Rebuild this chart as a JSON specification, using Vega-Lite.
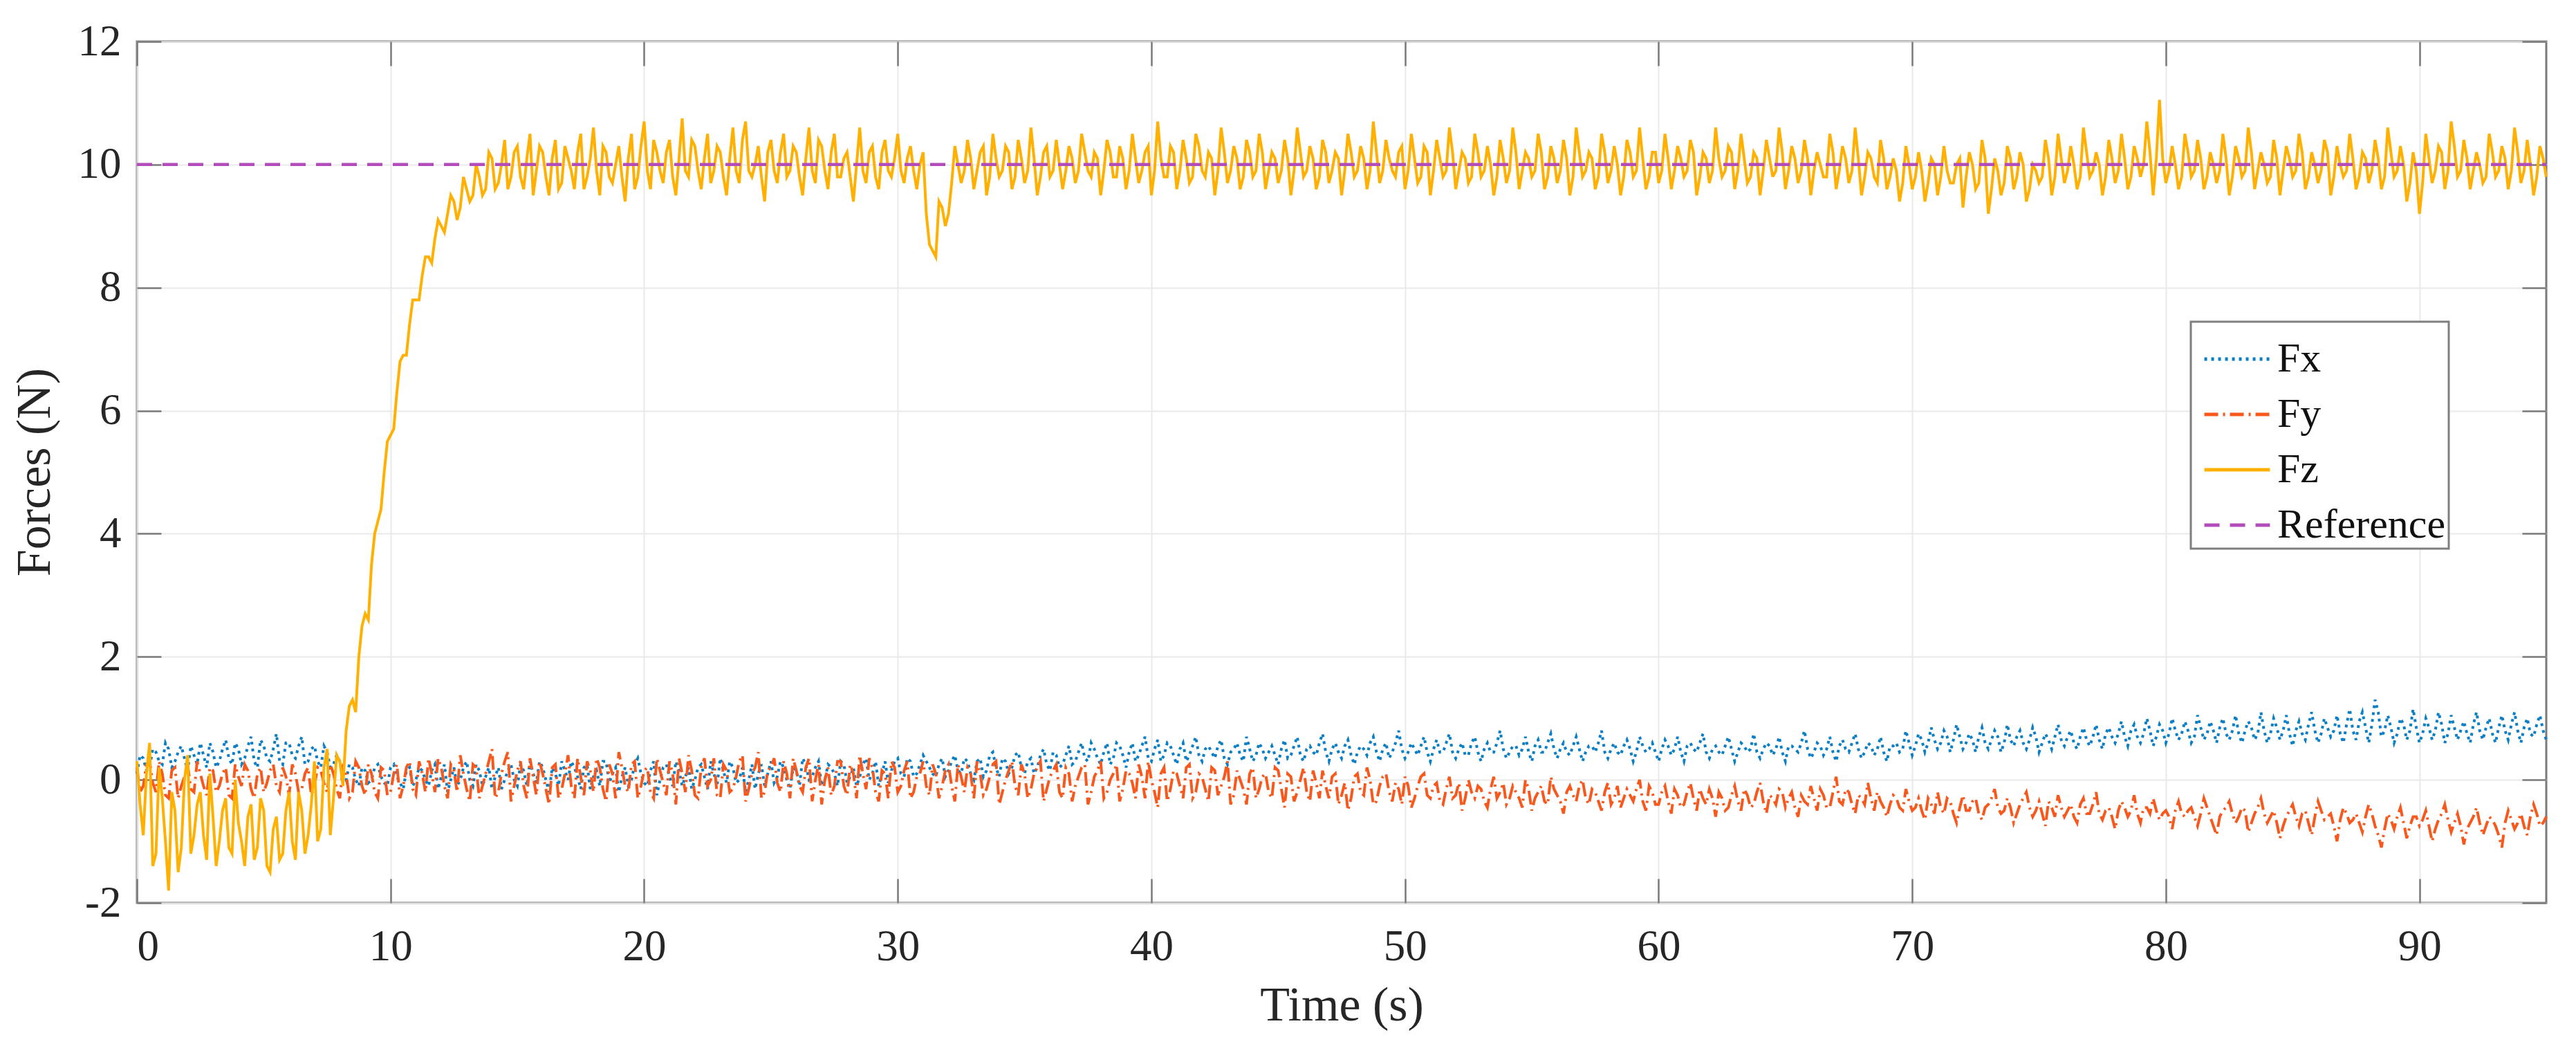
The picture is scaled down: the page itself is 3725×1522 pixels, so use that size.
{
"$schema":"https://vega.github.io/schema/vega-lite/v6.json",
"width":3484,"height":1245,
"autosize":{"type":"none"},
"padding":{"left":198,"top":60,"right":43,"bottom":217},
"background":"white",
"config":{
 "view":{"stroke":"#7a7a7a","strokeWidth":3},
 "font":"Liberation Serif",
 "legend":{"strokeWidth":3},
 "axis":{"labelFont":"Liberation Serif","titleFont":"Liberation Serif","labelFontSize":63,"titleFontSize":70,"titleFontWeight":"normal","labelColor":"#262626","titleColor":"#262626","gridColor":"#e9e9e9","gridWidth":2,"tickColor":"#7a7a7a","tickWidth":2.5,"domain":false}
},
"resolve":{"axis":{"x":"independent","y":"independent"}},
"layer":[
 {
  "data":{"values":[
{"t":0,"Fx":0.1,"Fy":0.2,"Fz":0.3},
{"t":0.25,"Fx":0.35,"Fy":-0.1,"Fz":-0.9},
{"t":0.5,"Fx":0.2,"Fy":0.3,"Fz":0.6},
{"t":0.75,"Fx":0.45,"Fy":-0.2,"Fz":-1.2},
{"t":1,"Fx":0.25,"Fy":0.1,"Fz":-0.3},
{"t":1.25,"Fx":0.5,"Fy":-0.3,"Fz":-1.8},
{"t":1.5,"Fx":0.3,"Fy":0.2,"Fz":-0.5},
{"t":1.75,"Fx":0.55,"Fy":-0.1,"Fz":-1.1},
{"t":2,"Fx":0.15,"Fy":0.25,"Fz":0.4},
{"t":2.25,"Fx":0.4,"Fy":-0.2,"Fz":-0.9},
{"t":2.5,"Fx":0.6,"Fy":0.1,"Fz":-0.2},
{"t":2.75,"Fx":0.2,"Fy":-0.25,"Fz":-1.3},
{"t":3,"Fx":0.45,"Fy":0.15,"Fz":-0.6},
{"t":3.25,"Fx":0.3,"Fy":-0.1,"Fz":-1.0},
{"t":3.5,"Fx":0.65,"Fy":0.2,"Fz":-0.3},
{"t":3.75,"Fx":0.25,"Fy":-0.3,"Fz":-1.2},
{"t":4,"Fx":0.5,"Fy":0.05,"Fz":-0.7},
{"t":4.25,"Fx":0.35,"Fy":0.25,"Fz":-1.4},
{"t":4.5,"Fx":0.7,"Fy":-0.15,"Fz":-0.4},
{"t":4.75,"Fx":0.2,"Fy":0.1,"Fz":-1.1},
{"t":5,"Fx":0.55,"Fy":-0.2,"Fz":-0.5},
{"t":5.25,"Fx":0.3,"Fy":0.15,"Fz":-1.5},
{"t":5.5,"Fx":0.75,"Fy":-0.1,"Fz":-0.6},
{"t":5.75,"Fx":0.25,"Fy":0.2,"Fz":-1.2},
{"t":6,"Fx":0.6,"Fy":-0.25,"Fz":-0.2},
{"t":6.25,"Fx":0.35,"Fy":0.1,"Fz":-1.3},
{"t":6.5,"Fx":0.7,"Fy":-0.15,"Fz":-0.5},
{"t":6.75,"Fx":0.3,"Fy":0.2,"Fz":-0.9},
{"t":7,"Fx":0.55,"Fy":-0.1,"Fz":0.3},
{"t":7.25,"Fx":0.2,"Fy":0.15,"Fz":-0.8},
{"t":7.5,"Fx":0.45,"Fy":-0.2,"Fz":0.5},
{"t":7.75,"Fx":0.25,"Fy":0.1,"Fz":-0.3},
{"t":8,"Fx":0.3,"Fy":-0.3,"Fz":0.3},
{"t":8.25,"Fx":0.0,"Fy":0.1,"Fz":0.8},
{"t":8.5,"Fx":0.2,"Fy":-0.2,"Fz":1.3},
{"t":8.75,"Fx":-0.1,"Fy":0.2,"Fz":2.0},
{"t":9,"Fx":0.15,"Fy":-0.25,"Fz":2.7},
{"t":9.25,"Fx":0.0,"Fy":0.1,"Fz":3.5},
{"t":9.5,"Fx":0.25,"Fy":-0.3,"Fz":4.2},
{"t":9.75,"Fx":-0.05,"Fy":0.15,"Fz":5.0},
{"t":10,"Fx":0.2,"Fy":-0.2,"Fz":5.6},
{"t":10.25,"Fx":0.05,"Fy":0.25,"Fz":6.3},
{"t":10.5,"Fx":-0.15,"Fy":-0.1,"Fz":6.9},
{"t":10.75,"Fx":0.2,"Fy":0.3,"Fz":7.4},
{"t":11,"Fx":0.0,"Fy":-0.25,"Fz":7.8},
{"t":11.25,"Fx":0.15,"Fy":0.1,"Fz":8.2},
{"t":11.5,"Fx":-0.1,"Fy":0.35,"Fz":8.5},
{"t":11.75,"Fx":0.25,"Fy":-0.2,"Fz":8.8},
{"t":12,"Fx":0.05,"Fy":0.2,"Fz":9.0},
{"t":12.25,"Fx":-0.2,"Fy":-0.3,"Fz":9.2},
{"t":12.5,"Fx":0.2,"Fy":0.15,"Fz":9.4},
{"t":12.75,"Fx":0.0,"Fy":0.4,"Fz":9.3},
{"t":13,"Fx":0.3,"Fy":-0.15,"Fz":9.6},
{"t":13.25,"Fx":-0.1,"Fy":0.25,"Fz":9.5},
{"t":13.5,"Fx":0.15,"Fy":-0.3,"Fz":9.8},
{"t":13.75,"Fx":0.05,"Fy":0.1,"Fz":9.6},
{"t":14,"Fx":-0.15,"Fy":0.5,"Fz":10.1},
{"t":14.25,"Fx":0.2,"Fy":-0.2,"Fz":9.7},
{"t":14.5,"Fx":0.0,"Fy":0.3,"Fz":10.4},
{"t":14.75,"Fx":0.25,"Fy":-0.35,"Fz":9.8},
{"t":15,"Fx":-0.1,"Fy":0.15,"Fz":10.3},
{"t":15.25,"Fx":0.15,"Fy":-0.1,"Fz":9.6},
{"t":15.5,"Fx":0.3,"Fy":0.35,"Fz":10.5},
{"t":15.75,"Fx":-0.05,"Fy":-0.25,"Fz":9.9},
{"t":16,"Fx":0.2,"Fy":0.1,"Fz":10.2},
{"t":16.25,"Fx":-0.2,"Fy":-0.4,"Fz":9.5},
{"t":16.5,"Fx":0.1,"Fy":0.25,"Fz":10.4},
{"t":16.75,"Fx":0.3,"Fy":-0.15,"Fz":9.7},
{"t":17,"Fx":0.0,"Fy":0.4,"Fz":10.1},
{"t":17.25,"Fx":0.2,"Fy":-0.3,"Fz":9.6},
{"t":17.5,"Fx":-0.15,"Fy":0.05,"Fz":10.5},
{"t":17.75,"Fx":0.25,"Fy":0.3,"Fz":9.8},
{"t":18,"Fx":0.05,"Fy":-0.2,"Fz":10.6},
{"t":18.25,"Fx":-0.1,"Fy":0.2,"Fz":9.5},
{"t":18.5,"Fx":0.3,"Fy":-0.35,"Fz":10.2},
{"t":18.75,"Fx":0.1,"Fy":0.1,"Fz":9.7},
{"t":19,"Fx":-0.2,"Fy":0.45,"Fz":10.3},
{"t":19.25,"Fx":0.2,"Fy":-0.1,"Fz":9.4},
{"t":19.5,"Fx":0.0,"Fy":0.25,"Fz":10.5},
{"t":19.75,"Fx":0.35,"Fy":-0.3,"Fz":9.8},
{"t":20,"Fx":-0.05,"Fy":0.15,"Fz":10.7},
{"t":20.25,"Fx":0.15,"Fy":-0.2,"Fz":9.6},
{"t":20.5,"Fx":-0.25,"Fy":0.35,"Fz":10.2},
{"t":20.75,"Fx":0.2,"Fy":-0.05,"Fz":9.7},
{"t":21,"Fx":0.05,"Fy":0.3,"Fz":10.4},
{"t":21.25,"Fx":0.3,"Fy":-0.4,"Fz":9.5},
{"t":21.5,"Fx":-0.1,"Fy":0.1,"Fz":10.75},
{"t":21.75,"Fx":0.2,"Fy":0.4,"Fz":9.8},
{"t":22,"Fx":0.0,"Fy":-0.25,"Fz":10.3},
{"t":22.25,"Fx":0.25,"Fy":0.2,"Fz":9.6},
{"t":22.5,"Fx":-0.15,"Fy":-0.1,"Fz":10.5},
{"t":22.75,"Fx":0.1,"Fy":0.35,"Fz":9.9},
{"t":23,"Fx":0.35,"Fy":-0.3,"Fz":10.2},
{"t":23.25,"Fx":-0.05,"Fy":0.15,"Fz":9.5},
{"t":23.5,"Fx":0.2,"Fy":-0.15,"Fz":10.6},
{"t":23.75,"Fx":0.0,"Fy":0.3,"Fz":9.7},
{"t":24,"Fx":-0.2,"Fy":-0.35,"Fz":10.7},
{"t":24.25,"Fx":0.25,"Fy":0.1,"Fz":9.8},
{"t":24.5,"Fx":0.1,"Fy":0.45,"Fz":10.3},
{"t":24.75,"Fx":-0.1,"Fy":-0.2,"Fz":9.4},
{"t":25,"Fx":0.3,"Fy":0.2,"Fz":10.4},
{"t":25.25,"Fx":0.05,"Fy":-0.05,"Fz":9.7},
{"t":25.5,"Fx":0.2,"Fy":0.3,"Fz":10.5},
{"t":25.75,"Fx":-0.15,"Fy":-0.3,"Fz":9.9},
{"t":26,"Fx":0.15,"Fy":0.15,"Fz":10.2},
{"t":26.25,"Fx":0.35,"Fy":-0.2,"Fz":9.5},
{"t":26.5,"Fx":0.0,"Fy":0.35,"Fz":10.6},
{"t":26.75,"Fx":0.2,"Fy":0.0,"Fz":9.7},
{"t":27,"Fx":-0.1,"Fy":-0.4,"Fz":10.3},
{"t":27.25,"Fx":0.25,"Fy":0.2,"Fz":9.6},
{"t":27.5,"Fx":0.1,"Fy":-0.1,"Fz":10.5},
{"t":27.75,"Fx":0.3,"Fy":0.3,"Fz":9.8},
{"t":28,"Fx":-0.05,"Fy":-0.25,"Fz":10.2},
{"t":28.25,"Fx":0.2,"Fy":0.1,"Fz":9.4},
{"t":28.5,"Fx":0.05,"Fy":0.4,"Fz":10.6},
{"t":28.75,"Fx":0.35,"Fy":-0.15,"Fz":9.7},
{"t":29,"Fx":0.1,"Fy":0.2,"Fz":10.3},
{"t":29.25,"Fx":-0.1,"Fy":-0.35,"Fz":9.6},
{"t":29.5,"Fx":0.3,"Fy":0.1,"Fz":10.4},
{"t":29.75,"Fx":0.15,"Fy":0.3,"Fz":9.8},
{"t":30,"Fx":0.35,"Fy":-0.2,"Fz":10.5},
{"t":30.25,"Fx":0.05,"Fy":0.15,"Fz":9.7},
{"t":30.5,"Fx":0.3,"Fy":-0.3,"Fz":10.3},
{"t":30.75,"Fx":0.1,"Fy":0.05,"Fz":9.6},
{"t":31,"Fx":0.4,"Fy":0.3,"Fz":10.2},
{"t":31.25,"Fx":0.2,"Fy":-0.25,"Fz":8.7},
{"t":31.5,"Fx":0.05,"Fy":0.1,"Fz":8.5},
{"t":31.75,"Fx":0.35,"Fy":-0.1,"Fz":9.3},
{"t":32,"Fx":0.15,"Fy":0.25,"Fz":9.2},
{"t":32.25,"Fx":0.4,"Fy":-0.35,"Fz":10.3},
{"t":32.5,"Fx":0.1,"Fy":0.05,"Fz":9.7},
{"t":32.75,"Fx":0.3,"Fy":0.2,"Fz":10.4},
{"t":33,"Fx":0.0,"Fy":-0.3,"Fz":9.6},
{"t":33.25,"Fx":0.35,"Fy":0.1,"Fz":10.2},
{"t":33.5,"Fx":0.15,"Fy":-0.15,"Fz":9.5},
{"t":33.75,"Fx":0.45,"Fy":0.25,"Fz":10.5},
{"t":34,"Fx":0.05,"Fy":-0.4,"Fz":9.8},
{"t":34.25,"Fx":0.3,"Fy":0.0,"Fz":10.3},
{"t":34.5,"Fx":0.2,"Fy":0.3,"Fz":9.6},
{"t":34.75,"Fx":0.45,"Fy":-0.25,"Fz":10.4},
{"t":35,"Fx":0.1,"Fy":0.1,"Fz":9.7},
{"t":35.25,"Fx":0.35,"Fy":-0.15,"Fz":10.6},
{"t":35.5,"Fx":0.2,"Fy":0.2,"Fz":9.5},
{"t":35.75,"Fx":0.5,"Fy":-0.35,"Fz":10.2},
{"t":36,"Fx":0.15,"Fy":0.05,"Fz":9.8},
{"t":36.25,"Fx":0.4,"Fy":0.25,"Fz":10.4},
{"t":36.5,"Fx":0.25,"Fy":-0.3,"Fz":9.6},
{"t":36.75,"Fx":0.55,"Fy":0.1,"Fz":10.3},
{"t":37,"Fx":0.3,"Fy":-0.1,"Fz":9.7},
{"t":37.25,"Fx":0.6,"Fy":0.2,"Fz":10.5},
{"t":37.5,"Fx":0.3,"Fy":-0.4,"Fz":9.9},
{"t":37.75,"Fx":0.5,"Fy":0.05,"Fz":10.2},
{"t":38,"Fx":0.25,"Fy":0.3,"Fz":9.5},
{"t":38.25,"Fx":0.6,"Fy":-0.2,"Fz":10.4},
{"t":38.5,"Fx":0.35,"Fy":0.1,"Fz":9.8},
{"t":38.75,"Fx":0.55,"Fy":-0.35,"Fz":10.3},
{"t":39,"Fx":0.2,"Fy":0.15,"Fz":9.6},
{"t":39.25,"Fx":0.6,"Fy":-0.05,"Fz":10.5},
{"t":39.5,"Fx":0.4,"Fy":0.25,"Fz":9.7},
{"t":39.75,"Fx":0.7,"Fy":-0.3,"Fz":10.2},
{"t":40,"Fx":0.3,"Fy":0.0,"Fz":9.5},
{"t":40.25,"Fx":0.65,"Fy":-0.45,"Fz":10.7},
{"t":40.5,"Fx":0.4,"Fy":0.2,"Fz":9.8},
{"t":40.75,"Fx":0.55,"Fy":-0.15,"Fz":10.3},
{"t":41,"Fx":0.25,"Fy":0.1,"Fz":9.6},
{"t":41.25,"Fx":0.6,"Fy":-0.3,"Fz":10.4},
{"t":41.5,"Fx":0.4,"Fy":0.25,"Fz":9.7},
{"t":41.75,"Fx":0.7,"Fy":-0.2,"Fz":10.5},
{"t":42,"Fx":0.3,"Fy":0.05,"Fz":9.9},
{"t":42.25,"Fx":0.55,"Fy":-0.35,"Fz":10.2},
{"t":42.5,"Fx":0.35,"Fy":0.15,"Fz":9.5},
{"t":42.75,"Fx":0.65,"Fy":-0.1,"Fz":10.6},
{"t":43,"Fx":0.25,"Fy":0.3,"Fz":9.7},
{"t":43.25,"Fx":0.5,"Fy":-0.25,"Fz":10.3},
{"t":43.5,"Fx":0.4,"Fy":0.0,"Fz":9.6},
{"t":43.75,"Fx":0.7,"Fy":-0.4,"Fz":10.4},
{"t":44,"Fx":0.3,"Fy":0.2,"Fz":9.8},
{"t":44.25,"Fx":0.6,"Fy":-0.15,"Fz":10.5},
{"t":44.5,"Fx":0.35,"Fy":0.1,"Fz":9.6},
{"t":44.75,"Fx":0.55,"Fy":-0.3,"Fz":10.2},
{"t":45,"Fx":0.25,"Fy":0.15,"Fz":9.7},
{"t":45.25,"Fx":0.65,"Fy":-0.45,"Fz":10.4},
{"t":45.5,"Fx":0.4,"Fy":0.05,"Fz":9.5},
{"t":45.75,"Fx":0.7,"Fy":-0.2,"Fz":10.6},
{"t":46,"Fx":0.3,"Fy":0.2,"Fz":9.8},
{"t":46.25,"Fx":0.55,"Fy":-0.35,"Fz":10.3},
{"t":46.5,"Fx":0.4,"Fy":-0.05,"Fz":9.6},
{"t":46.75,"Fx":0.75,"Fy":0.15,"Fz":10.4},
{"t":47,"Fx":0.3,"Fy":-0.3,"Fz":9.7},
{"t":47.25,"Fx":0.6,"Fy":0.1,"Fz":10.2},
{"t":47.5,"Fx":0.35,"Fy":-0.25,"Fz":9.5},
{"t":47.75,"Fx":0.65,"Fy":-0.5,"Fz":10.5},
{"t":48,"Fx":0.25,"Fy":0.05,"Fz":9.8},
{"t":48.25,"Fx":0.55,"Fy":-0.2,"Fz":10.3},
{"t":48.5,"Fx":0.4,"Fy":0.2,"Fz":9.6},
{"t":48.75,"Fx":0.7,"Fy":-0.4,"Fz":10.7},
{"t":49,"Fx":0.3,"Fy":-0.1,"Fz":9.7},
{"t":49.25,"Fx":0.6,"Fy":0.1,"Fz":10.4},
{"t":49.5,"Fx":0.45,"Fy":-0.35,"Fz":9.9},
{"t":49.75,"Fx":0.8,"Fy":-0.15,"Fz":10.2},
{"t":50,"Fx":0.35,"Fy":0.05,"Fz":9.6},
{"t":50.25,"Fx":0.6,"Fy":-0.45,"Fz":10.5},
{"t":50.5,"Fx":0.4,"Fy":-0.1,"Fz":9.7},
{"t":50.75,"Fx":0.7,"Fy":0.1,"Fz":10.3},
{"t":51,"Fx":0.3,"Fy":-0.3,"Fz":9.5},
{"t":51.25,"Fx":0.65,"Fy":-0.05,"Fz":10.4},
{"t":51.5,"Fx":0.45,"Fy":-0.4,"Fz":9.8},
{"t":51.75,"Fx":0.75,"Fy":0.05,"Fz":10.6},
{"t":52,"Fx":0.35,"Fy":-0.25,"Fz":9.6},
{"t":52.25,"Fx":0.6,"Fy":-0.5,"Fz":10.2},
{"t":52.5,"Fx":0.4,"Fy":0.0,"Fz":9.7},
{"t":52.75,"Fx":0.7,"Fy":-0.3,"Fz":10.5},
{"t":53,"Fx":0.3,"Fy":-0.15,"Fz":9.8},
{"t":53.25,"Fx":0.6,"Fy":-0.45,"Fz":10.3},
{"t":53.5,"Fx":0.45,"Fy":0.05,"Fz":9.5},
{"t":53.75,"Fx":0.8,"Fy":-0.2,"Fz":10.4},
{"t":54,"Fx":0.35,"Fy":-0.4,"Fz":9.7},
{"t":54.25,"Fx":0.55,"Fy":-0.1,"Fz":10.6},
{"t":54.5,"Fx":0.4,"Fy":-0.3,"Fz":9.6},
{"t":54.75,"Fx":0.7,"Fy":0.0,"Fz":10.2},
{"t":55,"Fx":0.3,"Fy":-0.5,"Fz":9.8},
{"t":55.25,"Fx":0.65,"Fy":-0.2,"Fz":10.5},
{"t":55.5,"Fx":0.45,"Fy":-0.35,"Fz":9.6},
{"t":55.75,"Fx":0.75,"Fy":0.05,"Fz":10.3},
{"t":56,"Fx":0.35,"Fy":-0.25,"Fz":9.7},
{"t":56.25,"Fx":0.6,"Fy":-0.55,"Fz":10.4},
{"t":56.5,"Fx":0.4,"Fy":-0.1,"Fz":9.5},
{"t":56.75,"Fx":0.7,"Fy":-0.35,"Fz":10.6},
{"t":57,"Fx":0.3,"Fy":0.0,"Fz":9.8},
{"t":57.25,"Fx":0.55,"Fy":-0.4,"Fz":10.2},
{"t":57.5,"Fx":0.45,"Fy":-0.2,"Fz":9.6},
{"t":57.75,"Fx":0.8,"Fy":-0.5,"Fz":10.5},
{"t":58,"Fx":0.35,"Fy":-0.05,"Fz":9.7},
{"t":58.25,"Fx":0.6,"Fy":-0.3,"Fz":10.3},
{"t":58.5,"Fx":0.4,"Fy":-0.45,"Fz":9.5},
{"t":58.75,"Fx":0.65,"Fy":-0.15,"Fz":10.4},
{"t":59,"Fx":0.3,"Fy":-0.35,"Fz":9.8},
{"t":59.25,"Fx":0.7,"Fy":0.0,"Fz":10.6},
{"t":59.5,"Fx":0.45,"Fy":-0.5,"Fz":9.6},
{"t":59.75,"Fx":0.6,"Fy":-0.2,"Fz":10.2},
{"t":60,"Fx":0.3,"Fy":-0.4,"Fz":9.7},
{"t":60.25,"Fx":0.65,"Fy":-0.1,"Fz":10.5},
{"t":60.5,"Fx":0.4,"Fy":-0.55,"Fz":9.6},
{"t":60.75,"Fx":0.7,"Fy":-0.25,"Fz":10.3},
{"t":61,"Fx":0.3,"Fy":-0.4,"Fz":9.8},
{"t":61.25,"Fx":0.6,"Fy":-0.05,"Fz":10.4},
{"t":61.5,"Fx":0.45,"Fy":-0.5,"Fz":9.5},
{"t":61.75,"Fx":0.75,"Fy":-0.3,"Fz":10.2},
{"t":62,"Fx":0.35,"Fy":-0.15,"Fz":9.7},
{"t":62.25,"Fx":0.55,"Fy":-0.6,"Fz":10.6},
{"t":62.5,"Fx":0.4,"Fy":-0.3,"Fz":9.8},
{"t":62.75,"Fx":0.7,"Fy":-0.45,"Fz":10.3},
{"t":63,"Fx":0.3,"Fy":-0.1,"Fz":9.6},
{"t":63.25,"Fx":0.6,"Fy":-0.5,"Fz":10.5},
{"t":63.5,"Fx":0.45,"Fy":-0.25,"Fz":9.7},
{"t":63.75,"Fx":0.75,"Fy":-0.4,"Fz":10.2},
{"t":64,"Fx":0.35,"Fy":-0.05,"Fz":9.5},
{"t":64.25,"Fx":0.6,"Fy":-0.55,"Fz":10.4},
{"t":64.5,"Fx":0.4,"Fy":-0.3,"Fz":9.8},
{"t":64.75,"Fx":0.7,"Fy":-0.15,"Fz":10.6},
{"t":65,"Fx":0.3,"Fy":-0.45,"Fz":9.6},
{"t":65.25,"Fx":0.55,"Fy":-0.2,"Fz":10.3},
{"t":65.5,"Fx":0.45,"Fy":-0.6,"Fz":9.7},
{"t":65.75,"Fx":0.8,"Fy":-0.35,"Fz":10.4},
{"t":66,"Fx":0.35,"Fy":-0.1,"Fz":9.5},
{"t":66.25,"Fx":0.6,"Fy":-0.5,"Fz":10.2},
{"t":66.5,"Fx":0.4,"Fy":-0.25,"Fz":9.8},
{"t":66.75,"Fx":0.7,"Fy":-0.45,"Fz":10.5},
{"t":67,"Fx":0.3,"Fy":0.05,"Fz":9.6},
{"t":67.25,"Fx":0.65,"Fy":-0.4,"Fz":10.3},
{"t":67.5,"Fx":0.45,"Fy":-0.2,"Fz":9.7},
{"t":67.75,"Fx":0.75,"Fy":-0.55,"Fz":10.6},
{"t":68,"Fx":0.35,"Fy":-0.3,"Fz":9.5},
{"t":68.25,"Fx":0.6,"Fy":-0.05,"Fz":10.2},
{"t":68.5,"Fx":0.4,"Fy":-0.5,"Fz":9.8},
{"t":68.75,"Fx":0.7,"Fy":-0.35,"Fz":10.4},
{"t":69,"Fx":0.3,"Fy":-0.6,"Fz":9.6},
{"t":69.25,"Fx":0.55,"Fy":-0.25,"Fz":10.1},
{"t":69.5,"Fx":0.45,"Fy":-0.45,"Fz":9.4},
{"t":69.75,"Fx":0.8,"Fy":-0.15,"Fz":10.3},
{"t":70,"Fx":0.4,"Fy":-0.5,"Fz":9.6},
{"t":70.25,"Fx":0.75,"Fy":-0.3,"Fz":10.2},
{"t":70.5,"Fx":0.45,"Fy":-0.65,"Fz":9.4},
{"t":70.75,"Fx":0.85,"Fy":-0.4,"Fz":10.1},
{"t":71,"Fx":0.5,"Fy":-0.2,"Fz":9.5},
{"t":71.25,"Fx":0.8,"Fy":-0.55,"Fz":10.3},
{"t":71.5,"Fx":0.45,"Fy":-0.35,"Fz":9.7},
{"t":71.75,"Fx":0.9,"Fy":-0.7,"Fz":10.0},
{"t":72,"Fx":0.5,"Fy":-0.25,"Fz":9.3},
{"t":72.25,"Fx":0.75,"Fy":-0.5,"Fz":10.2},
{"t":72.5,"Fx":0.45,"Fy":-0.3,"Fz":9.6},
{"t":72.75,"Fx":0.85,"Fy":-0.65,"Fz":10.4},
{"t":73,"Fx":0.5,"Fy":-0.4,"Fz":9.2},
{"t":73.25,"Fx":0.8,"Fy":-0.15,"Fz":10.1},
{"t":73.5,"Fx":0.45,"Fy":-0.55,"Fz":9.5},
{"t":73.75,"Fx":0.9,"Fy":-0.3,"Fz":10.3},
{"t":74,"Fx":0.55,"Fy":-0.7,"Fz":9.6},
{"t":74.25,"Fx":0.8,"Fy":-0.4,"Fz":10.2},
{"t":74.5,"Fx":0.5,"Fy":-0.2,"Fz":9.4},
{"t":74.75,"Fx":0.85,"Fy":-0.6,"Fz":10.0},
{"t":75,"Fx":0.45,"Fy":-0.35,"Fz":9.7},
{"t":75.25,"Fx":0.75,"Fy":-0.75,"Fz":10.4},
{"t":75.5,"Fx":0.5,"Fy":-0.45,"Fz":9.5},
{"t":75.75,"Fx":0.9,"Fy":-0.25,"Fz":10.5},
{"t":76,"Fx":0.55,"Fy":-0.6,"Fz":9.7},
{"t":76.25,"Fx":0.8,"Fy":-0.4,"Fz":10.3},
{"t":76.5,"Fx":0.5,"Fy":-0.7,"Fz":9.6},
{"t":76.75,"Fx":0.85,"Fy":-0.3,"Fz":10.6},
{"t":77,"Fx":0.55,"Fy":-0.55,"Fz":9.8},
{"t":77.25,"Fx":0.9,"Fy":-0.2,"Fz":10.2},
{"t":77.5,"Fx":0.5,"Fy":-0.65,"Fz":9.5},
{"t":77.75,"Fx":0.85,"Fy":-0.45,"Fz":10.4},
{"t":78,"Fx":0.6,"Fy":-0.8,"Fz":9.7},
{"t":78.25,"Fx":0.95,"Fy":-0.35,"Fz":10.5},
{"t":78.5,"Fx":0.55,"Fy":-0.6,"Fz":9.6},
{"t":78.75,"Fx":0.9,"Fy":-0.25,"Fz":10.3},
{"t":79,"Fx":0.6,"Fy":-0.7,"Fz":9.8},
{"t":79.25,"Fx":1.0,"Fy":-0.45,"Fz":10.7},
{"t":79.5,"Fx":0.55,"Fy":-0.3,"Fz":9.5},
{"t":79.75,"Fx":0.9,"Fy":-0.65,"Fz":11.05},
{"t":80,"Fx":0.6,"Fy":-0.5,"Fz":9.7},
{"t":80.25,"Fx":1.0,"Fy":-0.8,"Fz":10.3},
{"t":80.5,"Fx":0.65,"Fy":-0.35,"Fz":9.6},
{"t":80.75,"Fx":0.95,"Fy":-0.6,"Fz":10.5},
{"t":81,"Fx":0.6,"Fy":-0.45,"Fz":9.8},
{"t":81.25,"Fx":1.05,"Fy":-0.75,"Fz":10.4},
{"t":81.5,"Fx":0.65,"Fy":-0.3,"Fz":9.6},
{"t":81.75,"Fx":0.95,"Fy":-0.6,"Fz":10.2},
{"t":82,"Fx":0.6,"Fy":-0.9,"Fz":9.7},
{"t":82.25,"Fx":1.0,"Fy":-0.5,"Fz":10.5},
{"t":82.5,"Fx":0.65,"Fy":-0.35,"Fz":9.5},
{"t":82.75,"Fx":1.05,"Fy":-0.7,"Fz":10.3},
{"t":83,"Fx":0.6,"Fy":-0.45,"Fz":9.8},
{"t":83.25,"Fx":0.95,"Fy":-0.85,"Fz":10.6},
{"t":83.5,"Fx":0.65,"Fy":-0.55,"Fz":9.6},
{"t":83.75,"Fx":1.1,"Fy":-0.3,"Fz":10.2},
{"t":84,"Fx":0.6,"Fy":-0.7,"Fz":9.7},
{"t":84.25,"Fx":1.0,"Fy":-0.5,"Fz":10.4},
{"t":84.5,"Fx":0.65,"Fy":-0.95,"Fz":9.5},
{"t":84.75,"Fx":1.05,"Fy":-0.6,"Fz":10.3},
{"t":85,"Fx":0.55,"Fy":-0.4,"Fz":9.8},
{"t":85.25,"Fx":0.95,"Fy":-0.75,"Fz":10.5},
{"t":85.5,"Fx":0.65,"Fy":-0.5,"Fz":9.6},
{"t":85.75,"Fx":1.1,"Fy":-0.9,"Fz":10.2},
{"t":86,"Fx":0.6,"Fy":-0.35,"Fz":9.7},
{"t":86.25,"Fx":1.0,"Fy":-0.65,"Fz":10.4},
{"t":86.5,"Fx":0.7,"Fy":-0.55,"Fz":9.5},
{"t":86.75,"Fx":1.05,"Fy":-1.0,"Fz":10.3},
{"t":87,"Fx":0.6,"Fy":-0.45,"Fz":9.8},
{"t":87.25,"Fx":1.15,"Fy":-0.7,"Fz":10.5},
{"t":87.5,"Fx":0.65,"Fy":-0.55,"Fz":9.6},
{"t":87.75,"Fx":1.1,"Fy":-0.85,"Fz":10.2},
{"t":88,"Fx":0.6,"Fy":-0.4,"Fz":9.7},
{"t":88.25,"Fx":1.3,"Fy":-0.75,"Fz":10.4},
{"t":88.5,"Fx":0.7,"Fy":-1.1,"Fz":9.6},
{"t":88.75,"Fx":1.05,"Fy":-0.55,"Fz":10.6},
{"t":89,"Fx":0.6,"Fy":-0.8,"Fz":9.8},
{"t":89.25,"Fx":1.0,"Fy":-0.45,"Fz":10.3},
{"t":89.5,"Fx":0.65,"Fy":-0.95,"Fz":9.4},
{"t":89.75,"Fx":1.15,"Fy":-0.6,"Fz":10.2},
{"t":90,"Fx":0.6,"Fy":-0.75,"Fz":9.2},
{"t":90.25,"Fx":1.0,"Fy":-0.5,"Fz":10.5},
{"t":90.5,"Fx":0.65,"Fy":-1.0,"Fz":9.7},
{"t":90.75,"Fx":1.1,"Fy":-0.65,"Fz":10.3},
{"t":91,"Fx":0.6,"Fy":-0.4,"Fz":9.6},
{"t":91.25,"Fx":1.05,"Fy":-0.85,"Fz":10.7},
{"t":91.5,"Fx":0.65,"Fy":-0.55,"Fz":9.8},
{"t":91.75,"Fx":0.95,"Fy":-1.05,"Fz":10.4},
{"t":92,"Fx":0.6,"Fy":-0.7,"Fz":9.6},
{"t":92.25,"Fx":1.1,"Fy":-0.45,"Fz":10.2},
{"t":92.5,"Fx":0.65,"Fy":-0.9,"Fz":9.7},
{"t":92.75,"Fx":1.0,"Fy":-0.6,"Fz":10.5},
{"t":93,"Fx":0.6,"Fy":-0.75,"Fz":9.8},
{"t":93.25,"Fx":1.05,"Fy":-1.1,"Fz":10.3},
{"t":93.5,"Fx":0.65,"Fy":-0.5,"Fz":9.6},
{"t":93.75,"Fx":1.1,"Fy":-0.8,"Fz":10.6},
{"t":94,"Fx":0.6,"Fy":-0.55,"Fz":9.7},
{"t":94.25,"Fx":1.0,"Fy":-0.9,"Fz":10.4},
{"t":94.5,"Fx":0.7,"Fy":-0.4,"Fz":9.5},
{"t":94.75,"Fx":1.05,"Fy":-0.75,"Fz":10.3},
{"t":95,"Fx":0.65,"Fy":-0.6,"Fz":9.8},
{"t":0.125,"Fx":0.4,"Fy":-0.2,"Fz":-0.4},
{"t":0.375,"Fx":0.15,"Fy":0.25,"Fz":0.1},
{"t":0.625,"Fx":0.5,"Fy":-0.05,"Fz":-1.4},
{"t":0.875,"Fx":0.3,"Fy":0.3,"Fz":0.2},
{"t":1.125,"Fx":0.6,"Fy":-0.25,"Fz":-1.0},
{"t":1.375,"Fx":0.2,"Fy":0.15,"Fz":-0.2},
{"t":1.625,"Fx":0.45,"Fy":-0.3,"Fz":-1.5},
{"t":1.875,"Fx":0.35,"Fy":0.05,"Fz":0.0},
{"t":2.125,"Fx":0.55,"Fy":-0.15,"Fz":-1.2},
{"t":2.375,"Fx":0.25,"Fy":0.3,"Fz":-0.4},
{"t":2.625,"Fx":0.4,"Fy":-0.1,"Fz":-0.9},
{"t":2.875,"Fx":0.6,"Fy":0.2,"Fz":0.1},
{"t":3.125,"Fx":0.2,"Fy":-0.2,"Fz":-1.4},
{"t":3.375,"Fx":0.5,"Fy":0.1,"Fz":-0.5},
{"t":3.625,"Fx":0.35,"Fy":-0.25,"Fz":-1.1},
{"t":3.875,"Fx":0.6,"Fy":0.25,"Fz":0.0},
{"t":4.125,"Fx":0.25,"Fy":-0.1,"Fz":-1.0},
{"t":4.375,"Fx":0.55,"Fy":0.15,"Fz":-0.6},
{"t":4.625,"Fx":0.3,"Fy":-0.3,"Fz":-1.3},
{"t":4.875,"Fx":0.65,"Fy":0.2,"Fz":-0.3},
{"t":5.125,"Fx":0.35,"Fy":-0.05,"Fz":-1.4},
{"t":5.375,"Fx":0.5,"Fy":0.25,"Fz":-0.8},
{"t":5.625,"Fx":0.3,"Fy":-0.2,"Fz":-1.3},
{"t":5.875,"Fx":0.6,"Fy":0.05,"Fz":-0.5},
{"t":6.125,"Fx":0.4,"Fy":0.25,"Fz":-1.0},
{"t":6.375,"Fx":0.55,"Fy":-0.2,"Fz":-0.2},
{"t":6.625,"Fx":0.25,"Fy":0.1,"Fz":-1.2},
{"t":6.875,"Fx":0.5,"Fy":-0.25,"Fz":-0.4},
{"t":7.125,"Fx":0.3,"Fy":0.2,"Fz":-1.0},
{"t":7.375,"Fx":0.55,"Fy":-0.05,"Fz":0.2},
{"t":7.625,"Fx":0.2,"Fy":0.25,"Fz":-0.9},
{"t":7.875,"Fx":0.4,"Fy":-0.15,"Fz":0.4},
{"t":8.125,"Fx":0.15,"Fy":0.2,"Fz":-0.1},
{"t":8.375,"Fx":0.25,"Fy":-0.3,"Fz":1.2},
{"t":8.625,"Fx":0.0,"Fy":0.3,"Fz":1.1},
{"t":8.875,"Fx":0.2,"Fy":-0.1,"Fz":2.5},
{"t":9.125,"Fx":-0.05,"Fy":0.25,"Fz":2.6},
{"t":9.375,"Fx":0.2,"Fy":-0.2,"Fz":4.0},
{"t":9.625,"Fx":0.05,"Fy":0.2,"Fz":4.4},
{"t":9.875,"Fx":-0.1,"Fy":-0.25,"Fz":5.5},
{"t":10.125,"Fx":0.25,"Fy":0.1,"Fz":5.7},
{"t":10.375,"Fx":-0.05,"Fy":-0.3,"Fz":6.8},
{"t":10.625,"Fx":0.15,"Fy":0.2,"Fz":6.9},
{"t":10.875,"Fx":-0.1,"Fy":-0.15,"Fz":7.8},
{"t":11.125,"Fx":0.2,"Fy":0.3,"Fz":7.8},
{"t":11.375,"Fx":0.0,"Fy":-0.2,"Fz":8.5},
{"t":11.625,"Fx":0.15,"Fy":0.1,"Fz":8.4},
{"t":11.875,"Fx":-0.15,"Fy":0.35,"Fz":9.1},
{"t":12.125,"Fx":0.25,"Fy":-0.1,"Fz":8.9},
{"t":12.375,"Fx":0.0,"Fy":0.25,"Fz":9.5},
{"t":12.625,"Fx":-0.1,"Fy":-0.2,"Fz":9.1},
{"t":12.875,"Fx":0.2,"Fy":0.1,"Fz":9.8},
{"t":13.125,"Fx":0.0,"Fy":-0.35,"Fz":9.4},
{"t":13.375,"Fx":0.25,"Fy":0.2,"Fz":10.0},
{"t":13.625,"Fx":-0.1,"Fy":-0.1,"Fz":9.5},
{"t":13.875,"Fx":0.2,"Fy":0.3,"Fz":10.2},
{"t":14.125,"Fx":0.05,"Fy":-0.3,"Fz":9.6},
{"t":14.375,"Fx":-0.15,"Fy":0.1,"Fz":10.0},
{"t":14.625,"Fx":0.15,"Fy":0.45,"Fz":9.6},
{"t":14.875,"Fx":0.0,"Fy":-0.1,"Fz":10.2},
{"t":15.125,"Fx":0.25,"Fy":0.3,"Fz":9.8},
{"t":15.375,"Fx":-0.1,"Fy":-0.3,"Fz":10.1},
{"t":15.625,"Fx":0.1,"Fy":0.05,"Fz":9.5},
{"t":15.875,"Fx":0.3,"Fy":0.3,"Fz":10.3},
{"t":16.125,"Fx":0.0,"Fy":-0.15,"Fz":9.8},
{"t":16.375,"Fx":0.2,"Fy":0.2,"Fz":10.1},
{"t":16.625,"Fx":-0.1,"Fy":-0.3,"Fz":9.6},
{"t":16.875,"Fx":0.15,"Fy":0.1,"Fz":10.3},
{"t":17.125,"Fx":0.3,"Fy":-0.1,"Fz":9.9},
{"t":17.375,"Fx":0.05,"Fy":0.35,"Fz":10.2},
{"t":17.625,"Fx":0.2,"Fy":-0.25,"Fz":9.6},
{"t":17.875,"Fx":-0.15,"Fy":0.15,"Fz":10.1},
{"t":18.125,"Fx":0.15,"Fy":0.35,"Fz":9.9},
{"t":18.375,"Fx":0.3,"Fy":-0.15,"Fz":10.3},
{"t":18.625,"Fx":-0.05,"Fy":0.25,"Fz":9.8},
{"t":18.875,"Fx":0.2,"Fy":-0.3,"Fz":10.0},
{"t":19.125,"Fx":0.05,"Fy":0.2,"Fz":9.8},
{"t":19.375,"Fx":-0.1,"Fy":-0.2,"Fz":10.1},
{"t":19.625,"Fx":0.25,"Fy":0.3,"Fz":9.6},
{"t":19.875,"Fx":0.1,"Fy":-0.1,"Fz":10.3},
{"t":20.125,"Fx":-0.1,"Fy":0.2,"Fz":9.9},
{"t":20.375,"Fx":0.3,"Fy":-0.3,"Fz":10.4},
{"t":20.625,"Fx":0.0,"Fy":0.15,"Fz":9.9},
{"t":20.875,"Fx":0.25,"Fy":-0.25,"Fz":10.2},
{"t":21.125,"Fx":-0.1,"Fy":0.1,"Fz":9.8},
{"t":21.375,"Fx":0.15,"Fy":0.35,"Fz":10.1},
{"t":21.625,"Fx":0.05,"Fy":-0.2,"Fz":9.9},
{"t":21.875,"Fx":-0.15,"Fy":0.15,"Fz":10.4},
{"t":22.125,"Fx":0.2,"Fy":-0.3,"Fz":9.9},
{"t":22.375,"Fx":0.05,"Fy":0.35,"Fz":10.1},
{"t":22.625,"Fx":0.3,"Fy":0.0,"Fz":9.7},
{"t":22.875,"Fx":-0.1,"Fy":-0.25,"Fz":10.3},
{"t":23.125,"Fx":0.15,"Fy":0.25,"Fz":9.8},
{"t":23.375,"Fx":0.3,"Fy":-0.2,"Fz":10.1},
{"t":23.625,"Fx":-0.05,"Fy":0.05,"Fz":9.9},
{"t":23.875,"Fx":0.2,"Fy":0.4,"Fz":10.4},
{"t":24.125,"Fx":0.0,"Fy":-0.15,"Fz":9.9},
{"t":24.375,"Fx":-0.15,"Fy":0.2,"Fz":10.0},
{"t":24.625,"Fx":0.25,"Fy":-0.3,"Fz":9.8},
{"t":24.875,"Fx":0.1,"Fy":0.15,"Fz":10.2},
{"t":25.125,"Fx":-0.05,"Fy":0.35,"Fz":9.9},
{"t":25.375,"Fx":0.3,"Fy":-0.2,"Fz":10.2},
{"t":25.625,"Fx":0.0,"Fy":0.1,"Fz":9.8},
{"t":25.875,"Fx":0.2,"Fy":0.35,"Fz":10.3},
{"t":26.125,"Fx":-0.1,"Fy":-0.1,"Fz":9.8},
{"t":26.375,"Fx":0.25,"Fy":0.2,"Fz":10.1},
{"t":26.625,"Fx":0.05,"Fy":-0.35,"Fz":9.9},
{"t":26.875,"Fx":0.3,"Fy":0.25,"Fz":10.4},
{"t":27.125,"Fx":0.0,"Fy":0.0,"Fz":9.9},
{"t":27.375,"Fx":0.2,"Fy":-0.25,"Fz":10.2},
{"t":27.625,"Fx":-0.1,"Fy":0.3,"Fz":9.8},
{"t":27.875,"Fx":0.25,"Fy":-0.1,"Fz":10.1},
{"t":28.125,"Fx":0.05,"Fy":0.25,"Fz":9.8},
{"t":28.375,"Fx":-0.1,"Fy":-0.3,"Fz":10.0},
{"t":28.625,"Fx":0.25,"Fy":0.1,"Fz":9.9},
{"t":28.875,"Fx":0.0,"Fy":0.35,"Fz":10.2},
{"t":29.125,"Fx":0.3,"Fy":-0.2,"Fz":9.8},
{"t":29.375,"Fx":0.1,"Fy":0.15,"Fz":10.2},
{"t":29.625,"Fx":-0.05,"Fy":-0.3,"Fz":9.9},
{"t":29.875,"Fx":0.3,"Fy":0.2,"Fz":10.1},
{"t":30.125,"Fx":0.1,"Fy":-0.1,"Fz":9.9},
{"t":30.375,"Fx":0.35,"Fy":0.3,"Fz":10.1},
{"t":30.625,"Fx":0.05,"Fy":-0.2,"Fz":9.9},
{"t":30.875,"Fx":0.25,"Fy":0.1,"Fz":10.0},
{"t":31.125,"Fx":0.3,"Fy":-0.1,"Fz":9.2},
{"t":31.375,"Fx":0.1,"Fy":0.25,"Fz":8.6},
{"t":31.625,"Fx":0.25,"Fy":-0.3,"Fz":9.4},
{"t":31.875,"Fx":0.05,"Fy":0.15,"Fz":9.0},
{"t":32.125,"Fx":0.3,"Fy":-0.1,"Fz":9.7},
{"t":32.375,"Fx":0.15,"Fy":0.25,"Fz":10.0},
{"t":32.625,"Fx":0.35,"Fy":-0.2,"Fz":9.9},
{"t":32.875,"Fx":0.1,"Fy":0.1,"Fz":10.1},
{"t":33.125,"Fx":0.3,"Fy":0.3,"Fz":9.9},
{"t":33.375,"Fx":0.05,"Fy":-0.25,"Fz":10.3},
{"t":33.625,"Fx":0.4,"Fy":0.05,"Fz":9.8},
{"t":33.875,"Fx":0.2,"Fy":0.3,"Fz":10.1},
{"t":34.125,"Fx":0.35,"Fy":-0.2,"Fz":9.9},
{"t":34.375,"Fx":0.1,"Fy":0.15,"Fz":10.2},
{"t":34.625,"Fx":0.4,"Fy":-0.1,"Fz":9.8},
{"t":34.875,"Fx":0.2,"Fy":0.25,"Fz":10.1},
{"t":35.125,"Fx":0.3,"Fy":-0.3,"Fz":9.9},
{"t":35.375,"Fx":0.1,"Fy":0.1,"Fz":10.1},
{"t":35.625,"Fx":0.4,"Fy":0.3,"Fz":9.8},
{"t":35.875,"Fx":0.25,"Fy":-0.15,"Fz":10.3},
{"t":36.125,"Fx":0.45,"Fy":0.15,"Fz":9.9},
{"t":36.375,"Fx":0.2,"Fy":-0.2,"Fz":10.0},
{"t":36.625,"Fx":0.4,"Fy":0.2,"Fz":9.9},
{"t":36.875,"Fx":0.25,"Fy":-0.35,"Fz":10.1},
{"t":37.125,"Fx":0.45,"Fy":0.05,"Fz":9.9},
{"t":37.375,"Fx":0.35,"Fy":0.25,"Fz":10.2},
{"t":37.625,"Fx":0.6,"Fy":-0.2,"Fz":9.8},
{"t":37.875,"Fx":0.35,"Fy":0.15,"Fz":10.1},
{"t":38.125,"Fx":0.45,"Fy":-0.3,"Fz":9.9},
{"t":38.375,"Fx":0.25,"Fy":0.0,"Fz":10.2},
{"t":38.625,"Fx":0.6,"Fy":0.25,"Fz":9.8},
{"t":38.875,"Fx":0.4,"Fy":-0.15,"Fz":10.1},
{"t":39.125,"Fx":0.45,"Fy":0.1,"Fz":9.9},
{"t":39.375,"Fx":0.3,"Fy":-0.3,"Fz":10.1},
{"t":39.625,"Fx":0.55,"Fy":0.05,"Fz":9.9},
{"t":39.875,"Fx":0.35,"Fy":0.3,"Fz":10.3},
{"t":40.125,"Fx":0.5,"Fy":-0.2,"Fz":9.9},
{"t":40.375,"Fx":0.3,"Fy":0.1,"Fz":10.1},
{"t":40.625,"Fx":0.6,"Fy":-0.35,"Fz":9.8},
{"t":40.875,"Fx":0.4,"Fy":0.15,"Fz":10.2},
{"t":41.125,"Fx":0.5,"Fy":-0.1,"Fz":9.9},
{"t":41.375,"Fx":0.3,"Fy":0.2,"Fz":10.1},
{"t":41.625,"Fx":0.55,"Fy":-0.3,"Fz":9.8},
{"t":41.875,"Fx":0.4,"Fy":0.1,"Fz":10.3},
{"t":42.125,"Fx":0.5,"Fy":-0.15,"Fz":9.8},
{"t":42.375,"Fx":0.45,"Fy":0.2,"Fz":10.1},
{"t":42.625,"Fx":0.55,"Fy":-0.25,"Fz":9.9},
{"t":42.875,"Fx":0.35,"Fy":0.05,"Fz":10.2},
{"t":43.125,"Fx":0.45,"Fy":-0.4,"Fz":9.9},
{"t":43.375,"Fx":0.6,"Fy":0.15,"Fz":10.1},
{"t":43.625,"Fx":0.3,"Fy":-0.15,"Fz":9.8},
{"t":43.875,"Fx":0.5,"Fy":0.1,"Fz":10.2},
{"t":44.125,"Fx":0.4,"Fy":-0.3,"Fz":9.9},
{"t":44.375,"Fx":0.5,"Fy":0.05,"Fz":10.2},
{"t":44.625,"Fx":0.45,"Fy":-0.2,"Fz":9.9},
{"t":44.875,"Fx":0.4,"Fy":0.2,"Fz":10.1},
{"t":45.125,"Fx":0.5,"Fy":-0.15,"Fz":9.9},
{"t":45.375,"Fx":0.35,"Fy":0.1,"Fz":10.1},
{"t":45.625,"Fx":0.55,"Fy":-0.35,"Fz":9.9},
{"t":45.875,"Fx":0.4,"Fy":0.0,"Fz":10.2},
{"t":46.125,"Fx":0.5,"Fy":-0.2,"Fz":9.9},
{"t":46.375,"Fx":0.45,"Fy":0.15,"Fz":10.1},
{"t":46.625,"Fx":0.6,"Fy":-0.3,"Fz":9.8},
{"t":46.875,"Fx":0.45,"Fy":-0.1,"Fz":10.2},
{"t":47.125,"Fx":0.5,"Fy":0.05,"Fz":9.9},
{"t":47.375,"Fx":0.45,"Fy":-0.4,"Fz":10.1},
{"t":47.625,"Fx":0.55,"Fy":-0.05,"Fz":9.9},
{"t":47.875,"Fx":0.4,"Fy":-0.3,"Fz":10.2},
{"t":48.125,"Fx":0.45,"Fy":0.1,"Fz":9.9},
{"t":48.375,"Fx":0.5,"Fy":-0.25,"Fz":10.1},
{"t":48.625,"Fx":0.6,"Fy":0.0,"Fz":9.9},
{"t":48.875,"Fx":0.45,"Fy":-0.35,"Fz":10.2},
{"t":49.125,"Fx":0.5,"Fy":0.05,"Fz":9.9},
{"t":49.375,"Fx":0.35,"Fy":-0.2,"Fz":10.1},
{"t":49.625,"Fx":0.6,"Fy":-0.05,"Fz":9.8},
{"t":49.875,"Fx":0.5,"Fy":-0.4,"Fz":10.3},
{"t":50.125,"Fx":0.45,"Fy":-0.1,"Fz":9.9},
{"t":50.375,"Fx":0.5,"Fy":-0.3,"Fz":10.1},
{"t":50.625,"Fx":0.55,"Fy":0.05,"Fz":9.8},
{"t":50.875,"Fx":0.45,"Fy":-0.25,"Fz":10.2},
{"t":51.125,"Fx":0.5,"Fy":-0.1,"Fz":9.9},
{"t":51.375,"Fx":0.45,"Fy":-0.35,"Fz":10.1},
{"t":51.625,"Fx":0.6,"Fy":-0.15,"Fz":9.9},
{"t":51.875,"Fx":0.45,"Fy":-0.3,"Fz":10.2},
{"t":52.125,"Fx":0.5,"Fy":-0.05,"Fz":9.9},
{"t":52.375,"Fx":0.4,"Fy":-0.3,"Fz":10.1},
{"t":52.625,"Fx":0.6,"Fy":-0.2,"Fz":9.8},
{"t":52.875,"Fx":0.45,"Fy":-0.1,"Fz":10.2},
{"t":53.125,"Fx":0.5,"Fy":-0.35,"Fz":9.9},
{"t":53.375,"Fx":0.45,"Fy":-0.15,"Fz":10.0},
{"t":53.625,"Fx":0.6,"Fy":-0.3,"Fz":9.8},
{"t":53.875,"Fx":0.5,"Fy":-0.05,"Fz":10.1},
{"t":54.125,"Fx":0.45,"Fy":-0.3,"Fz":9.9},
{"t":54.375,"Fx":0.55,"Fy":-0.2,"Fz":10.2},
{"t":54.625,"Fx":0.5,"Fy":-0.45,"Fz":9.9},
{"t":54.875,"Fx":0.45,"Fy":-0.15,"Fz":10.1},
{"t":55.125,"Fx":0.55,"Fy":-0.3,"Fz":9.9},
{"t":55.375,"Fx":0.45,"Fy":-0.1,"Fz":10.2},
{"t":55.625,"Fx":0.6,"Fy":-0.4,"Fz":9.8},
{"t":55.875,"Fx":0.5,"Fy":-0.15,"Fz":10.1},
{"t":56.125,"Fx":0.5,"Fy":-0.35,"Fz":9.9},
{"t":56.375,"Fx":0.45,"Fy":-0.2,"Fz":10.1},
{"t":56.625,"Fx":0.55,"Fy":-0.25,"Fz":9.8},
{"t":56.875,"Fx":0.5,"Fy":-0.1,"Fz":10.2},
{"t":57.125,"Fx":0.45,"Fy":-0.3,"Fz":9.9},
{"t":57.375,"Fx":0.55,"Fy":-0.15,"Fz":10.1},
{"t":57.625,"Fx":0.6,"Fy":-0.35,"Fz":9.8},
{"t":57.875,"Fx":0.45,"Fy":-0.2,"Fz":10.2},
{"t":58.125,"Fx":0.5,"Fy":-0.4,"Fz":9.9},
{"t":58.375,"Fx":0.45,"Fy":-0.1,"Fz":10.0},
{"t":58.625,"Fx":0.55,"Fy":-0.3,"Fz":9.8},
{"t":58.875,"Fx":0.5,"Fy":-0.25,"Fz":10.2},
{"t":59.125,"Fx":0.45,"Fy":-0.15,"Fz":9.9},
{"t":59.375,"Fx":0.55,"Fy":-0.35,"Fz":10.1},
{"t":59.625,"Fx":0.5,"Fy":-0.1,"Fz":9.8},
{"t":59.875,"Fx":0.45,"Fy":-0.4,"Fz":10.2},
{"t":60.125,"Fx":0.5,"Fy":-0.2,"Fz":9.9},
{"t":60.375,"Fx":0.55,"Fy":-0.35,"Fz":10.1},
{"t":60.625,"Fx":0.5,"Fy":-0.15,"Fz":9.9},
{"t":60.875,"Fx":0.45,"Fy":-0.45,"Fz":10.1},
{"t":61.125,"Fx":0.55,"Fy":-0.2,"Fz":9.9},
{"t":61.375,"Fx":0.5,"Fy":-0.3,"Fz":10.2},
{"t":61.625,"Fx":0.6,"Fy":-0.15,"Fz":9.8},
{"t":61.875,"Fx":0.45,"Fy":-0.4,"Fz":10.1},
{"t":62.125,"Fx":0.5,"Fy":-0.3,"Fz":9.9},
{"t":62.375,"Fx":0.45,"Fy":-0.2,"Fz":10.1},
{"t":62.625,"Fx":0.55,"Fy":-0.5,"Fz":9.9},
{"t":62.875,"Fx":0.5,"Fy":-0.25,"Fz":10.2},
{"t":63.125,"Fx":0.45,"Fy":-0.35,"Fz":9.9},
{"t":63.375,"Fx":0.55,"Fy":-0.15,"Fz":10.1},
{"t":63.625,"Fx":0.5,"Fy":-0.45,"Fz":9.8},
{"t":63.875,"Fx":0.45,"Fy":-0.2,"Fz":10.1},
{"t":64.125,"Fx":0.5,"Fy":-0.35,"Fz":9.9},
{"t":64.375,"Fx":0.55,"Fy":-0.25,"Fz":10.1},
{"t":64.625,"Fx":0.5,"Fy":-0.4,"Fz":9.9},
{"t":64.875,"Fx":0.45,"Fy":-0.2,"Fz":10.2},
{"t":65.125,"Fx":0.55,"Fy":-0.3,"Fz":9.9},
{"t":65.375,"Fx":0.5,"Fy":-0.45,"Fz":10.1},
{"t":65.625,"Fx":0.6,"Fy":-0.25,"Fz":9.9},
{"t":65.875,"Fx":0.5,"Fy":-0.4,"Fz":10.1},
{"t":66.125,"Fx":0.45,"Fy":-0.3,"Fz":9.9},
{"t":66.375,"Fx":0.55,"Fy":-0.15,"Fz":10.0},
{"t":66.625,"Fx":0.5,"Fy":-0.45,"Fz":9.8},
{"t":66.875,"Fx":0.45,"Fy":-0.2,"Fz":10.2},
{"t":67.125,"Fx":0.55,"Fy":-0.35,"Fz":9.9},
{"t":67.375,"Fx":0.5,"Fy":-0.15,"Fz":10.1},
{"t":67.625,"Fx":0.6,"Fy":-0.4,"Fz":9.9},
{"t":67.875,"Fx":0.5,"Fy":-0.25,"Fz":10.1},
{"t":68.125,"Fx":0.45,"Fy":-0.4,"Fz":9.8},
{"t":68.375,"Fx":0.55,"Fy":-0.3,"Fz":10.1},
{"t":68.625,"Fx":0.5,"Fy":-0.2,"Fz":9.7},
{"t":68.875,"Fx":0.45,"Fy":-0.45,"Fz":10.1},
{"t":69.125,"Fx":0.55,"Fy":-0.4,"Fz":9.8},
{"t":69.375,"Fx":0.6,"Fy":-0.3,"Fz":9.9},
{"t":69.625,"Fx":0.5,"Fy":-0.5,"Fz":9.7},
{"t":69.875,"Fx":0.6,"Fy":-0.35,"Fz":10.0},
{"t":70.125,"Fx":0.55,"Fy":-0.45,"Fz":9.8},
{"t":70.375,"Fx":0.65,"Fy":-0.5,"Fz":9.9},
{"t":70.625,"Fx":0.6,"Fy":-0.3,"Fz":9.7},
{"t":70.875,"Fx":0.65,"Fy":-0.55,"Fz":10.0},
{"t":71.125,"Fx":0.6,"Fy":-0.45,"Fz":9.8},
{"t":71.375,"Fx":0.7,"Fy":-0.3,"Fz":9.9},
{"t":71.625,"Fx":0.65,"Fy":-0.55,"Fz":9.7},
{"t":71.875,"Fx":0.7,"Fy":-0.45,"Fz":10.1},
{"t":72.125,"Fx":0.6,"Fy":-0.5,"Fz":9.8},
{"t":72.375,"Fx":0.65,"Fy":-0.35,"Fz":10.0},
{"t":72.625,"Fx":0.7,"Fy":-0.55,"Fz":9.7},
{"t":72.875,"Fx":0.6,"Fy":-0.45,"Fz":10.1},
{"t":73.125,"Fx":0.65,"Fy":-0.3,"Fz":9.6},
{"t":73.375,"Fx":0.7,"Fy":-0.45,"Fz":9.9},
{"t":73.625,"Fx":0.6,"Fy":-0.5,"Fz":9.7},
{"t":73.875,"Fx":0.65,"Fy":-0.45,"Fz":10.1},
{"t":74.125,"Fx":0.7,"Fy":-0.55,"Fz":9.8},
{"t":74.375,"Fx":0.6,"Fy":-0.3,"Fz":10.0},
{"t":74.625,"Fx":0.65,"Fy":-0.45,"Fz":9.6},
{"t":74.875,"Fx":0.7,"Fy":-0.5,"Fz":9.9},
{"t":75.125,"Fx":0.6,"Fy":-0.55,"Fz":9.8},
{"t":75.375,"Fx":0.65,"Fy":-0.35,"Fz":10.1},
{"t":75.625,"Fx":0.7,"Fy":-0.6,"Fz":9.8},
{"t":75.875,"Fx":0.65,"Fy":-0.45,"Fz":10.1},
{"t":76.125,"Fx":0.7,"Fy":-0.5,"Fz":9.9},
{"t":76.375,"Fx":0.6,"Fy":-0.6,"Fz":10.0},
{"t":76.625,"Fx":0.7,"Fy":-0.4,"Fz":9.8},
{"t":76.875,"Fx":0.65,"Fy":-0.55,"Fz":10.2},
{"t":77.125,"Fx":0.7,"Fy":-0.4,"Fz":9.9},
{"t":77.375,"Fx":0.65,"Fy":-0.55,"Fz":10.0},
{"t":77.625,"Fx":0.75,"Fy":-0.5,"Fz":9.8},
{"t":77.875,"Fx":0.7,"Fy":-0.6,"Fz":10.1},
{"t":78.125,"Fx":0.75,"Fy":-0.5,"Fz":9.9},
{"t":78.375,"Fx":0.7,"Fy":-0.45,"Fz":10.1},
{"t":78.625,"Fx":0.8,"Fy":-0.5,"Fz":9.8},
{"t":78.875,"Fx":0.7,"Fy":-0.55,"Fz":10.1},
{"t":79.125,"Fx":0.75,"Fy":-0.45,"Fz":10.0},
{"t":79.375,"Fx":0.8,"Fy":-0.55,"Fz":10.2},
{"t":79.625,"Fx":0.7,"Fy":-0.5,"Fz":10.1},
{"t":79.875,"Fx":0.8,"Fy":-0.55,"Fz":10.1},
{"t":80.125,"Fx":0.75,"Fy":-0.6,"Fz":9.9},
{"t":80.375,"Fx":0.8,"Fy":-0.5,"Fz":10.0},
{"t":80.625,"Fx":0.75,"Fy":-0.55,"Fz":9.8},
{"t":80.875,"Fx":0.8,"Fy":-0.5,"Fz":10.2},
{"t":81.125,"Fx":0.7,"Fy":-0.6,"Fz":9.9},
{"t":81.375,"Fx":0.85,"Fy":-0.55,"Fz":10.1},
{"t":81.625,"Fx":0.75,"Fy":-0.45,"Fz":9.8},
{"t":81.875,"Fx":0.8,"Fy":-0.75,"Fz":10.0},
{"t":82.125,"Fx":0.85,"Fy":-0.6,"Fz":9.9},
{"t":82.375,"Fx":0.75,"Fy":-0.45,"Fz":10.1},
{"t":82.625,"Fx":0.8,"Fy":-0.55,"Fz":9.8},
{"t":82.875,"Fx":0.75,"Fy":-0.6,"Fz":10.1},
{"t":83.125,"Fx":0.8,"Fy":-0.5,"Fz":9.9},
{"t":83.375,"Fx":0.85,"Fy":-0.7,"Fz":10.2},
{"t":83.625,"Fx":0.75,"Fy":-0.45,"Fz":9.9},
{"t":83.875,"Fx":0.8,"Fy":-0.55,"Fz":10.0},
{"t":84.125,"Fx":0.75,"Fy":-0.6,"Fz":9.8},
{"t":84.375,"Fx":0.85,"Fy":-0.7,"Fz":10.1},
{"t":84.625,"Fx":0.8,"Fy":-0.75,"Fz":9.9},
{"t":84.875,"Fx":0.75,"Fy":-0.5,"Fz":10.1},
{"t":85.125,"Fx":0.8,"Fy":-0.6,"Fz":9.9},
{"t":85.375,"Fx":0.75,"Fy":-0.55,"Fz":10.2},
{"t":85.625,"Fx":0.9,"Fy":-0.7,"Fz":9.8},
{"t":85.875,"Fx":0.8,"Fy":-0.6,"Fz":10.0},
{"t":86.125,"Fx":0.75,"Fy":-0.5,"Fz":9.9},
{"t":86.375,"Fx":0.85,"Fy":-0.6,"Fz":10.2},
{"t":86.625,"Fx":0.8,"Fy":-0.75,"Fz":9.8},
{"t":86.875,"Fx":0.75,"Fy":-0.65,"Fz":10.0},
{"t":87.125,"Fx":0.9,"Fy":-0.55,"Fz":9.9},
{"t":87.375,"Fx":0.8,"Fy":-0.65,"Fz":10.1},
{"t":87.625,"Fx":0.95,"Fy":-0.7,"Fz":9.8},
{"t":87.875,"Fx":0.85,"Fy":-0.6,"Fz":10.1},
{"t":88.125,"Fx":0.9,"Fy":-0.55,"Fz":9.9},
{"t":88.375,"Fx":1.1,"Fy":-0.9,"Fz":10.1},
{"t":88.625,"Fx":0.8,"Fy":-0.8,"Fz":9.8},
{"t":88.875,"Fx":0.85,"Fy":-0.65,"Fz":10.2},
{"t":89.125,"Fx":0.75,"Fy":-0.6,"Fz":9.9},
{"t":89.375,"Fx":0.9,"Fy":-0.7,"Fz":10.0},
{"t":89.625,"Fx":0.8,"Fy":-0.75,"Fz":9.7},
{"t":89.875,"Fx":0.85,"Fy":-0.6,"Fz":9.9},
{"t":90.125,"Fx":0.75,"Fy":-0.65,"Fz":9.7},
{"t":90.375,"Fx":0.85,"Fy":-0.75,"Fz":10.1},
{"t":90.625,"Fx":0.8,"Fy":-0.8,"Fz":9.9},
{"t":90.875,"Fx":0.9,"Fy":-0.55,"Fz":10.2},
{"t":91.125,"Fx":0.75,"Fy":-0.65,"Fz":9.9},
{"t":91.375,"Fx":0.85,"Fy":-0.7,"Fz":10.3},
{"t":91.625,"Fx":0.8,"Fy":-0.75,"Fz":9.9},
{"t":91.875,"Fx":0.75,"Fy":-0.8,"Fz":10.1},
{"t":92.125,"Fx":0.9,"Fy":-0.6,"Fz":9.9},
{"t":92.375,"Fx":0.8,"Fy":-0.7,"Fz":10.0},
{"t":92.625,"Fx":0.85,"Fy":-0.75,"Fz":9.8},
{"t":92.875,"Fx":0.75,"Fy":-0.65,"Fz":10.2},
{"t":93.125,"Fx":0.85,"Fy":-0.9,"Fz":9.9},
{"t":93.375,"Fx":0.8,"Fy":-0.7,"Fz":10.1},
{"t":93.625,"Fx":0.9,"Fy":-0.65,"Fz":9.9},
{"t":93.875,"Fx":0.8,"Fy":-0.7,"Fz":10.2},
{"t":94.125,"Fx":0.85,"Fy":-0.75,"Fz":9.9},
{"t":94.375,"Fx":0.75,"Fy":-0.6,"Fz":10.0},
{"t":94.625,"Fx":0.9,"Fy":-0.55,"Fz":9.8},
{"t":94.875,"Fx":0.8,"Fy":-0.7,"Fz":10.1}
  ]},
  "transform":[{"fold":["Fx","Fy","Fz"],"as":["series","v"]}],
  "encoding":{
   "x":{"field":"t","type":"quantitative","scale":{"domain":[0,95],"nice":false,"zero":false},
        "axis":{"title":"Time (s)","values":[0,10,20,30,40,50,60,70,80,90],"tickSize":-35,"labelPadding":67,"grid":true,"labelExpr":"'' + datum.value","titleX":1742,"titleY":148,"titleBaseline":"middle"}},
   "y":{"field":"v","type":"quantitative","scale":{"domain":[-2,12],"nice":false},
        "axis":{"title":"Forces (N)","values":[-2,0,2,4,6,8,10,12],"tickSize":-35,"labelPadding":58,"grid":true,"labelExpr":"'' + datum.value","titleX":-148,"titleY":622,"titleAngle":-90,"titleBaseline":"middle","titleAlign":"center"}},
   "color":{"field":"series","type":"nominal","scale":{"domain":["Fx","Fy","Fz","Reference"],"range":["#0a7fc6","#f9581c","#ffb000","#b24cba"]},
        "legend":{"orient":"none","legendX":2970,"legendY":405,"title":null,"strokeColor":"#7f7f7f","fillColor":"white","padding":4,"symbolOffset":13,"labelFontSize":60,"labelFont":"Liberation Serif","labelColor":"#111111","symbolType":"stroke","symbolStrokeWidth":5,"symbolSize":9000,"labelOffset":8,"rowPadding":-7,"labelLimit":400}},
   "strokeDash":{"field":"series","type":"nominal","scale":{"domain":["Fx","Fy","Fz","Reference"],"range":[[4,6],[20,7,3,7],[1,0],[22,15]]}}
  },
  "layer":[
   {"transform":[{"filter":"datum.series == 'Fx'"}],"mark":{"type":"line","strokeWidth":4}},
   {"transform":[{"filter":"datum.series == 'Fy'"}],"mark":{"type":"line","strokeWidth":4}},
   {"transform":[{"filter":"datum.series == 'Fz'"}],"mark":{"type":"line","strokeWidth":4}},
   {"data":{"values":[{"t":0,"series":"Reference","v":10},{"t":95,"series":"Reference","v":10}]},"mark":{"type":"line","strokeWidth":4.5}}
  ]
 },
 {
  "data":{"values":[{"t":0,"v":10},{"t":95,"v":10}]},
  "mark":{"type":"point","opacity":0},
  "encoding":{
   "x":{"field":"t","type":"quantitative","axis":{"orient":"top","labels":false,"title":null,"grid":false,"tickSize":-35,"values":[0,10,20,30,40,50,60,70,80,90]}},
   "y":{"field":"v","type":"quantitative","axis":{"orient":"right","labels":false,"title":null,"grid":false,"tickSize":-35,"values":[-2,0,2,4,6,8,10,12]}}
  }
 }
]
}
